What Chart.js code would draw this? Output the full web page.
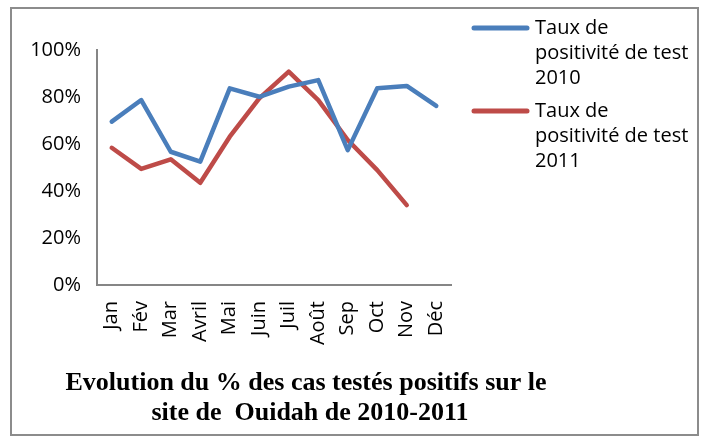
<!DOCTYPE html>
<html>
<head>
<meta charset="utf-8">
<script src="https://cdn.jsdelivr.net/npm/chart.js@4"></script>
<style>
    html, body { margin: 0; padding: 0; background: #fff; }
    #wrap { width: 704px; height: 437px; }
</style>
</head>
<body>
<div id="wrap"><canvas id="chart" width="704" height="437"></canvas></div>
<script>
// Data
const months = ['Jan', 'Fév', 'Mar', 'Avril', 'Mai', 'Juin', 'Juil', 'Août', 'Sep', 'Oct', 'Nov', 'Déc'];
const rate2010 = [69.5, 78.7, 56.7, 52.5, 83.7, 80.1, 84.4, 87.2, 57.4, 83.7, 84.7, 76.2];
const rate2011 = [58.4, 49.4, 53.5, 43.5, 63.1, 79.4, 90.8, 78.7, 61.7, 48.9, 34.0, null];
const yTicks = [0, 20, 40, 60, 80, 100];
const legendLines = [
    ['Taux de', 'positivité de test', '2010'],
    ['Taux de', 'positivité de test', '2011']
];
const titleLines = ['Evolution du % des cas testés positifs sur le', 'site de  Ouidah de 2010-2011'];

const blue = '#4a7ebb';
const red = '#be4b48';
const axisGrey = '#868686';
const labelFont = "'Open Sans', 'Noto Sans', sans-serif";

// frame, legend and title drawn on the canvas
const decorations = {
    id: 'decorations',
    beforeDraw(chart) {
        const ctx = chart.ctx;
        ctx.save();
        ctx.fillStyle = '#fff';
        ctx.fillRect(0, 0, chart.width, chart.height);
        ctx.strokeStyle = '#8c8c8c';
        ctx.lineWidth = 2;
        ctx.strokeRect(11, 8, 687, 427);
        ctx.restore();
    },
    afterDraw(chart) {
        const ctx = chart.ctx;
        ctx.save();

        // legend
        chart.data.datasets.forEach((ds, i) => {
            const y0 = 28 + i * 83;
            ctx.strokeStyle = ds.borderColor;
            ctx.lineWidth = 5;
            ctx.lineCap = 'round';
            ctx.beginPath();
            ctx.moveTo(474, y0);
            ctx.lineTo(527, y0);
            ctx.stroke();

            ctx.fillStyle = '#000';
            ctx.font = '20px ' + labelFont;
            ctx.textBaseline = 'middle';
            ctx.textAlign = 'left';
            legendLines[i].forEach((line, j) => {
                ctx.fillText(line, 535, y0 + j * 25);
            });
        });

        // title
        ctx.fillStyle = '#000';
        ctx.font = "bold 26px 'Liberation Serif', 'Times New Roman', serif";
        ctx.textAlign = 'center';
        ctx.textBaseline = 'alphabetic';
        ctx.fillText(titleLines[0], 306, 390);
        ctx.fillText(titleLines[1], 310, 420);
        ctx.restore();
    }
};

const ctx = document.getElementById('chart').getContext('2d');
new Chart(ctx, {
    type: 'line',
    data: {
        labels: months,
        datasets: [
            {
                label: 'Taux de positivité de test 2010',
                data: rate2010,
                borderColor: blue,
                backgroundColor: blue,
                borderWidth: 4.5,
                pointRadius: 0,
                borderCapStyle: 'round',
                borderJoinStyle: 'round',
                tension: 0
            },
            {
                label: 'Taux de positivité de test 2011',
                data: rate2011,
                borderColor: red,
                backgroundColor: red,
                borderWidth: 4.5,
                pointRadius: 0,
                borderCapStyle: 'round',
                borderJoinStyle: 'round',
                tension: 0
            }
        ]
    },
    options: {
        responsive: false,
        animation: false,
        layout: {
            padding: { left: 10, top: 50, right: 253, bottom: 0 }
        },
        plugins: {
            legend: { display: false },
            title: { display: false },
            tooltip: { enabled: false }
        },
        scales: {
            x: {
                offset: true,
                grid: { display: false, drawTicks: false },
                border: { display: true, color: axisGrey, width: 2 },
                ticks: {
                    color: '#000',
                    font: { family: labelFont, size: 20 },
                    minRotation: 90,
                    maxRotation: 90,
                    autoSkip: false,
                    padding: 16
                },
                afterFit(scale) { scale.height = 152; }
            },
            y: {
                min: 0,
                max: 100,
                grid: { display: false, drawTicks: false },
                border: { display: true, color: axisGrey, width: 2 },
                afterBuildTicks(scale) {
                    scale.ticks = yTicks.map(v => ({ value: v }));
                },
                ticks: {
                    color: '#000',
                    font: { family: labelFont, size: 20 },
                    padding: 16,
                    callback: v => v + '%'
                },
                afterFit(scale) { scale.width = 87; }
            }
        }
    },
    plugins: [decorations]
});
</script>
</body>
</html>
